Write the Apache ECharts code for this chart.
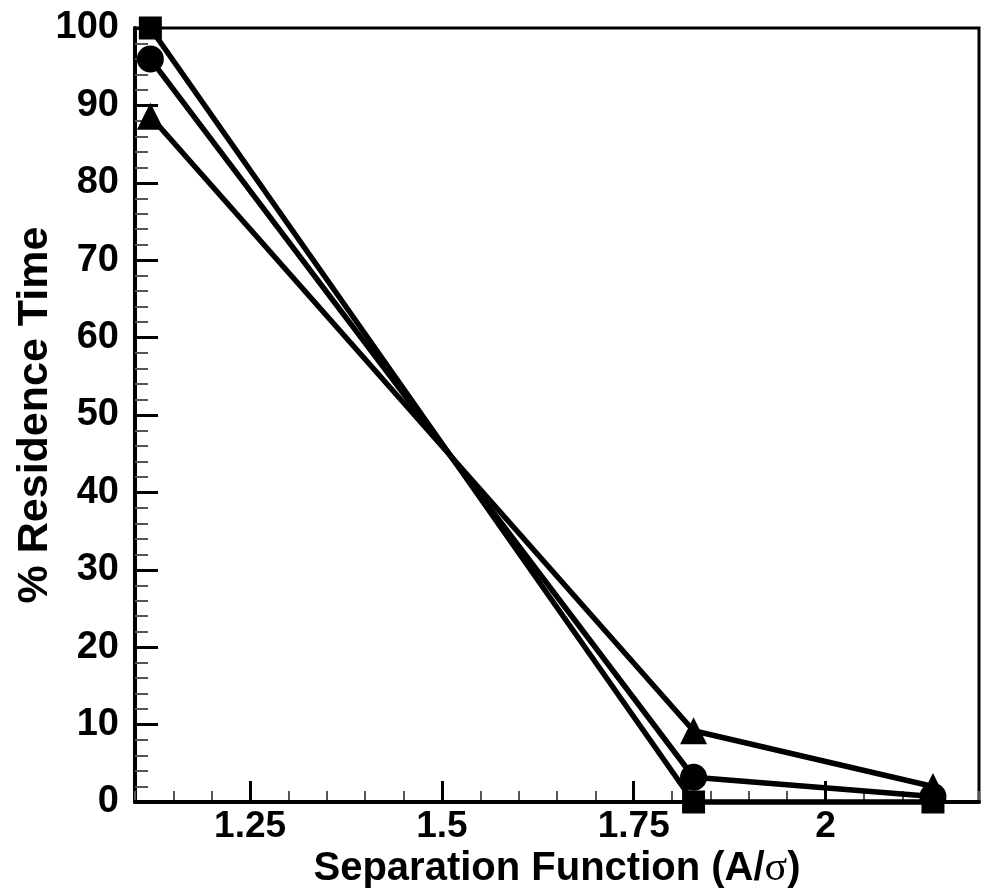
<!DOCTYPE html>
<html>
<head>
<meta charset="utf-8">
<script src="https://cdn.jsdelivr.net/npm/echarts@6/dist/echarts.min.js"></script>
<style>
  html, body { margin: 0; padding: 0; background: #fff; }
  #chart { width: 981px; height: 894px; }
</style>
</head>
<body>
<div id="chart"></div>
<script>
// Separation function values (A/sigma) at which residence time was measured
var separation = [1.12, 1.828, 2.14];

// Percent residence time for the three cases
var squareSeries = [100, 0, 0];
var circleSeries = [96, 3.2, 0.7];
var triangleSeries = [88.6, 9.2, 2.0];

// Labelled major ticks on the x axis
var xMajorTicks = [1.25, 1.5, 1.75, 2];

function pairs(xs, ys) {
  return xs.map(function (x, i) { return [x, ys[i]]; });
}

var FONT = '"Liberation Sans", Arial, sans-serif';

function seriesOf(name, symbol, size, values, z) {
  return {
    name: name,
    type: 'line',
    data: pairs(separation, values),
    symbol: symbol,
    symbolSize: size,
    showAllSymbol: true,
    clip: false,
    z: z,
    lineStyle: { color: '#000', width: 5.5 },
    itemStyle: { color: '#000', borderWidth: 0 },
    emphasis: { disabled: true },
    animation: false
  };
}

var chart = echarts.init(document.getElementById('chart'));
chart.setOption({
  animation: false,
  grid: {
    left: 135, top: 28, right: 2, bottom: 92,
    show: true, borderColor: '#000', borderWidth: 3,
    containLabel: false,
    outerBoundsMode: 'none'
  },
  xAxis: [
    {
      type: 'value',
      min: 1.1, max: 2.2,
      position: 'bottom',
      z: 3,
      axisLine: { show: true, onZero: false, lineStyle: { color: '#000', width: 4 } },
      axisTick: {
        show: true, inside: true, length: 21,
        customValues: xMajorTicks,
        lineStyle: { color: '#000', width: 3 }
      },
      axisLabel: {
        show: true, margin: 6,
        customValues: xMajorTicks,
        color: '#000', fontFamily: FONT, fontWeight: 'bold', fontSize: 37
      },
      splitLine: { show: false },
      name: 'Separation Function (A/{s|σ})',
      nameLocation: 'middle',
      nameGap: 46,
      nameMoveOverlap: false,
      nameTextStyle: {
        color: '#000', fontFamily: FONT, fontWeight: 'bold', fontSize: 40,
        rich: {
          s: { color: '#000', fontFamily: '"Liberation Serif", serif', fontWeight: 'normal', fontSize: 42 }
        }
      }
    },
    {
      // minor tick marks every 0.05
      type: 'value',
      min: 1.1, max: 2.2,
      interval: 0.05,
      position: 'bottom',
      z: 2,
      axisLine: { show: false },
      axisTick: { show: true, inside: true, length: 11, lineStyle: { color: '#555', width: 2 } },
      axisLabel: { show: false },
      splitLine: { show: false }
    }
  ],
  yAxis: {
    type: 'value',
    min: 0, max: 100, interval: 10,
    axisLine: { show: true, onZero: false, lineStyle: { color: '#000', width: 4 } },
    axisTick: { show: true, inside: true, length: 23, lineStyle: { color: '#000', width: 3 } },
    minorTick: { show: true, splitNumber: 5, length: 13, lineStyle: { color: '#555', width: 2 } },
    axisLabel: {
      margin: 16,
      color: '#000', fontFamily: FONT, fontWeight: 'bold', fontSize: 38
    },
    splitLine: { show: false },
    name: '% Residence Time',
    nameLocation: 'middle',
    nameGap: 78,
    nameMoveOverlap: false,
    nameTextStyle: { color: '#000', fontFamily: FONT, fontWeight: 'bold', fontSize: 43 }
  },
  series: [
    seriesOf('Triangle', 'triangle', 27, triangleSeries, 4),
    seriesOf('Circle', 'circle', 27, circleSeries, 5),
    seriesOf('Square', 'rect', 23, squareSeries, 6)
  ]
});
</script>
</body>
</html>
